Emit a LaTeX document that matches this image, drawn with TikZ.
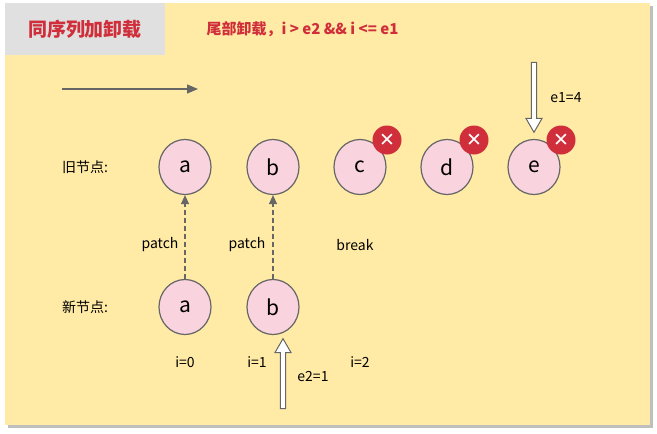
\documentclass[tikz,border=0pt]{standalone}
\usepackage{fontspec}
\setmainfont{Noto Sans CJK SC}
\newfontfamily\dvfont{DejaVu Sans}
\usetikzlibrary{arrows.meta,shapes.arrows,shapes.geometric}
\definecolor{panel}{HTML}{FFEBA6}
\definecolor{nodefill}{HTML}{F9D3DE}
\definecolor{xred}{HTML}{CF2E3A}
\definecolor{edge}{HTML}{666666}
\begin{document}
\begin{tikzpicture}[x=1pt,y=-1pt,
  circ/.style={ellipse,draw=edge,line width=1.2pt,fill=nodefill,minimum width=52pt,minimum height=55pt,inner sep=0pt,font=\fontsize{21}{21}\selectfont},
  xmark/.style={circle,fill=xred,minimum size=29pt,inner sep=0pt,text=white,font=\dvfont\bfseries\fontsize{19}{19}\selectfont},
  lbl/.style={font=\fontsize{14}{14}\selectfont},
  hollow/.style={single arrow,draw=edge,fill=white,line width=1pt,single arrow head extend=4pt,minimum height=70pt,minimum width=16pt,inner sep=1.5pt,single arrow tip angle=60}
]
\useasboundingbox (0,0) rectangle (657,434);
\fill[white] (0,0) rectangle (657,434);
\fill[black!25] (8,6) rectangle (653,428);
\fill[panel] (5,3) rectangle (650,425);
\fill[black!12] (5,3) rectangle (165,55);
\node[text=xred,font=\bfseries\fontsize{19}{19}\selectfont] (title) at (85,29) {同序列加卸载};
\node[text=xred,font=\bfseries\fontsize{15}{15}\selectfont,anchor=west] (sub) at (203,29) {尾部卸载，i > e2 \&\& i <= e1};
\coordinate (l1) at (62,89); \coordinate (l2) at (198,89);
\draw[edge,line width=1.5pt,-{Triangle[length=11pt,width=9pt]}] (l1) -- (l2);
\node[lbl] (old) at (85,167) {旧节点:};
\node[lbl] (new) at (85,307) {新节点:};
\foreach \n/\x in {a/185,b/273,c/360,d/447,e/534}{\node[circ] (o\n) at (\x,167) {\n};}
\foreach \n/\x in {a/185,b/273}{\node[circ] (n\n) at (\x,307) {\n};}
\foreach \n/\x in {c/387,d/474,e/561}{\node[xmark] (x\n) at (\x,140) {✕};}
\foreach \n in {a,b}{\draw[edge,line width=1.3pt,dash pattern=on 5pt off 3pt,-{Triangle[length=9pt,width=8pt]}] (n\n) -- (o\n);}
\node[lbl] (p1) at (160,245) {patch};
\node[lbl] (p2) at (247,245) {patch};
\node[lbl] (br) at (355,245) {break};
\node[lbl] (i0) at (185,362) {i=0};
\node[lbl] (i1) at (257,362) {i=1};
\node[lbl] (i2) at (360,362) {i=2};
\node[hollow,rotate=90] (up) at (283,376) {};
\node[lbl] (e2) at (313,377) {e2=1};
\node[hollow,rotate=-90] (down) at (534,95) {};
\node[lbl] (e1) at (566,98) {e1=4};
\end{tikzpicture}
\end{document}
